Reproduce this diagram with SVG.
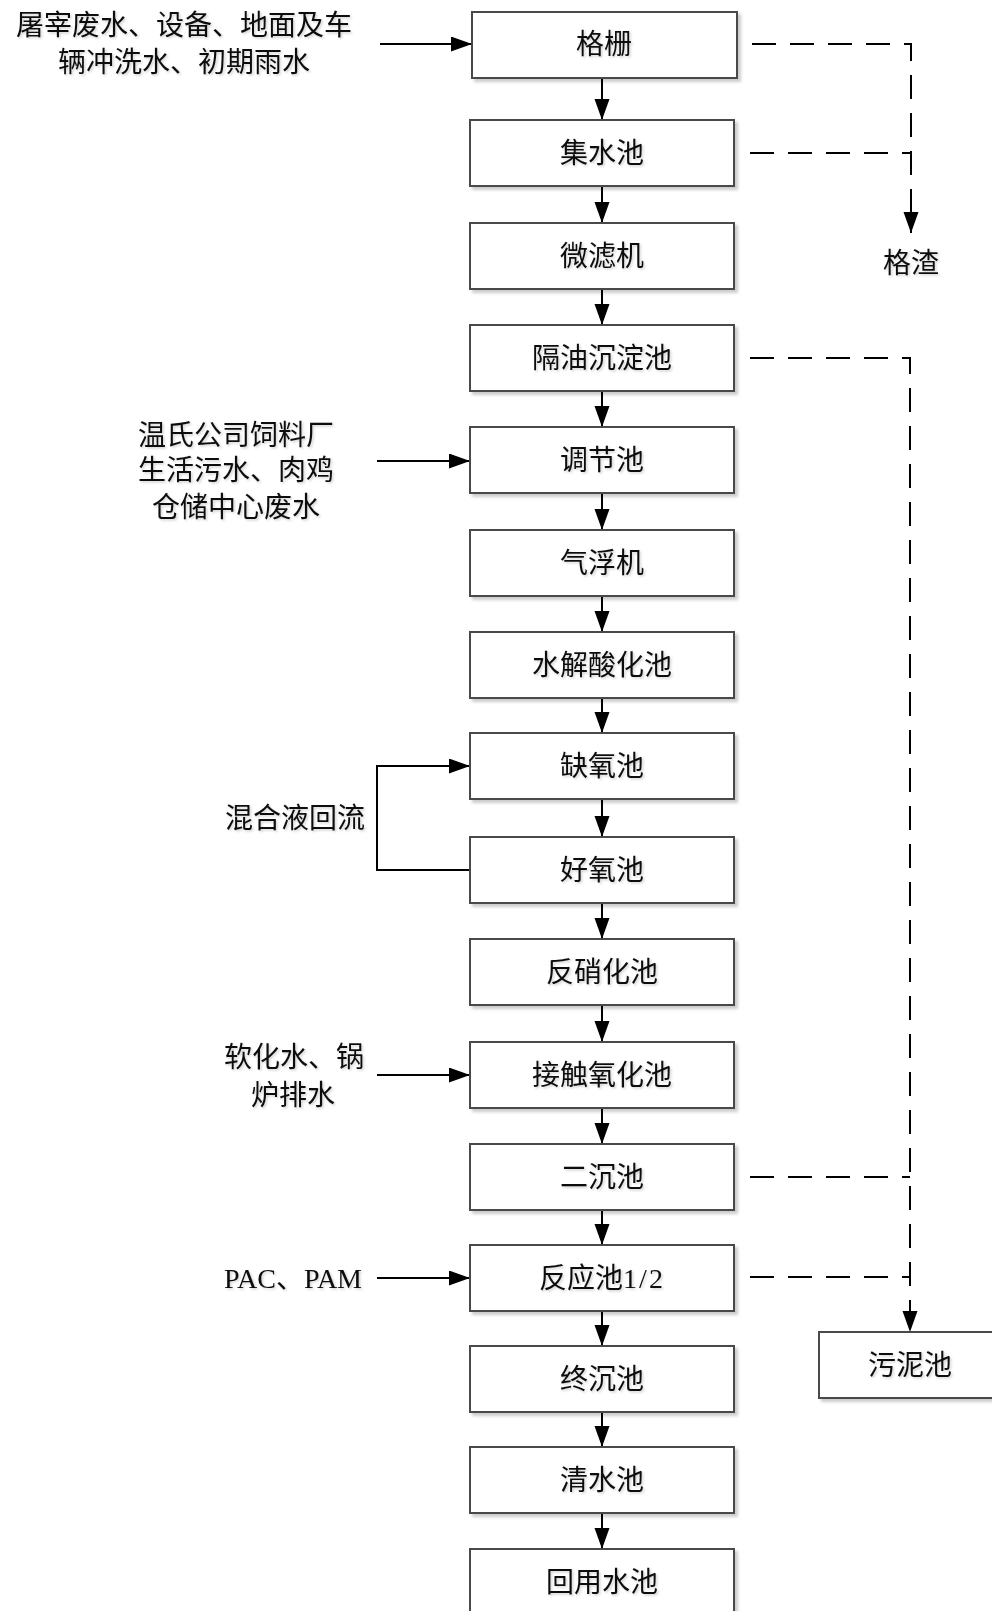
<svg xmlns="http://www.w3.org/2000/svg" width="992" height="1611" viewBox="0 0 992 1611">
<style>
.box{fill:#fff;stroke:#4a4a4a;stroke-width:2;filter:url(#sh)}
.t{font-family:"Liberation Serif","Noto Sans CJK SC",serif;font-size:28px;fill:#111;text-anchor:middle;dominant-baseline:central;filter:url(#tsh)}
.ln{fill:none;stroke:#000;stroke-width:2}
.dl{fill:none;stroke:#000;stroke-width:2;stroke-dasharray:24 14}
</style>
<defs>
<filter id="sh" x="-5%" y="-10%" width="115%" height="130%"><feDropShadow dx="3" dy="3" stdDeviation="1.5" flood-color="#000" flood-opacity="0.2"/></filter>
<filter id="tsh" x="-10%" y="-20%" width="130%" height="150%"><feDropShadow dx="1.5" dy="1.5" stdDeviation="1" flood-color="#000" flood-opacity="0.18"/></filter>
<marker id="ar" markerUnits="userSpaceOnUse" markerWidth="22" markerHeight="16" refX="21" refY="7.5" orient="auto" viewBox="0 0 22 16"><path d="M0,0 L21,7.5 L0,15 z" fill="#000"/></marker>
</defs>
<rect width="992" height="1611" fill="#fff"/>
<g id="connectors">
<path class="ln" d="M380,44 H472" marker-end="url(#ar)"/>
<path class="ln" d="M602,78 V120" marker-end="url(#ar)"/>
<path class="ln" d="M602,186 V223" marker-end="url(#ar)"/>
<path class="ln" d="M602,289 V325" marker-end="url(#ar)"/>
<path class="ln" d="M602,391 V427" marker-end="url(#ar)"/>
<path class="ln" d="M377,461 H470" marker-end="url(#ar)"/>
<path class="ln" d="M602,493 V530" marker-end="url(#ar)"/>
<path class="ln" d="M602,596 V632" marker-end="url(#ar)"/>
<path class="ln" d="M602,698 V733" marker-end="url(#ar)"/>
<path class="ln" d="M602,799 V837" marker-end="url(#ar)"/>
<path class="ln" d="M470,870 H377 V766 H470" marker-end="url(#ar)"/>
<path class="ln" d="M602,903 V939" marker-end="url(#ar)"/>
<path class="ln" d="M602,1005 V1042" marker-end="url(#ar)"/>
<path class="ln" d="M377,1075 H470" marker-end="url(#ar)"/>
<path class="ln" d="M602,1108 V1144" marker-end="url(#ar)"/>
<path class="ln" d="M602,1210 V1245" marker-end="url(#ar)"/>
<path class="ln" d="M377,1278 H470" marker-end="url(#ar)"/>
<path class="ln" d="M602,1311 V1346" marker-end="url(#ar)"/>
<path class="ln" d="M602,1412 V1447" marker-end="url(#ar)"/>
<path class="ln" d="M602,1513 V1549" marker-end="url(#ar)"/>
<path class="dl" d="M752,44 H911 V233" marker-end="url(#ar)"/>
<path class="dl" d="M750,153 H911"/>
<path class="dl" d="M750,358 H910 V1332" marker-end="url(#ar)"/>
<path class="dl" d="M750,1177 H910"/>
<path class="dl" d="M750,1277 H910"/>
</g>
<g id="n-geshan"><rect class="box" x="472" y="12" width="265" height="66"/><text class="t" x="604" y="44">格栅</text></g>
<g id="n-jishuichi"><rect class="box" x="470" y="120" width="264" height="66"/><text class="t" x="602" y="153">集水池</text></g>
<g id="n-weilvji"><rect class="box" x="470" y="223" width="264" height="66"/><text class="t" x="602" y="256">微滤机</text></g>
<g id="n-geyou"><rect class="box" x="470" y="325" width="264" height="66"/><text class="t" x="602" y="358">隔油沉淀池</text></g>
<g id="n-tiaojie"><rect class="box" x="470" y="427" width="264" height="66"/><text class="t" x="602" y="460">调节池</text></g>
<g id="n-qifu"><rect class="box" x="470" y="530" width="264" height="66"/><text class="t" x="602" y="563">气浮机</text></g>
<g id="n-shuijie"><rect class="box" x="470" y="632" width="264" height="66"/><text class="t" x="602" y="665">水解酸化池</text></g>
<g id="n-queyang"><rect class="box" x="470" y="733" width="264" height="66"/><text class="t" x="602" y="766">缺氧池</text></g>
<g id="n-haoyang"><rect class="box" x="470" y="837" width="264" height="66"/><text class="t" x="602" y="870">好氧池</text></g>
<g id="n-fanxiao"><rect class="box" x="470" y="939" width="264" height="66"/><text class="t" x="602" y="972">反硝化池</text></g>
<g id="n-jiechu"><rect class="box" x="470" y="1042" width="264" height="66"/><text class="t" x="602" y="1075">接触氧化池</text></g>
<g id="n-erchen"><rect class="box" x="470" y="1144" width="264" height="66"/><text class="t" x="602" y="1177">二沉池</text></g>
<g id="n-fanying"><rect class="box" x="470" y="1245" width="264" height="66"/><text class="t" x="602" y="1278">反应池<tspan letter-spacing="2">1/2</tspan></text></g>
<g id="n-zhongchen"><rect class="box" x="470" y="1346" width="264" height="66"/><text class="t" x="602" y="1379">终沉池</text></g>
<g id="n-qingshui"><rect class="box" x="470" y="1447" width="264" height="66"/><text class="t" x="602" y="1480">清水池</text></g>
<g id="n-huiyong"><rect class="box" x="470" y="1549" width="264" height="66"/><text class="t" x="602" y="1582">回用水池</text></g>
<g id="n-wuni"><rect class="box" x="819" y="1332" width="180" height="66"/><text class="t" x="910" y="1365">污泥池</text></g>
<g id="n-gezha"><text class="t" x="911" y="263">格渣</text></g>
<g id="l-input1"><text class="t" x="184" y="25">屠宰废水、设备、地面及车</text><text class="t" x="184" y="62">辆冲洗水、初期雨水</text></g>
<g id="l-input2"><text class="t" x="236" y="435">温氏公司饲料厂</text><text class="t" x="236" y="470">生活污水、肉鸡</text><text class="t" x="236" y="507">仓储中心废水</text></g>
<g id="l-reflux"><text class="t" x="295" y="818">混合液回流</text></g>
<g id="l-input3"><text class="t" x="294" y="1057">软化水、锅</text><text class="t" x="293" y="1095">炉排水</text></g>
<g id="l-input4"><text class="t" x="293" y="1278">PAC、PAM</text></g>
</svg>
